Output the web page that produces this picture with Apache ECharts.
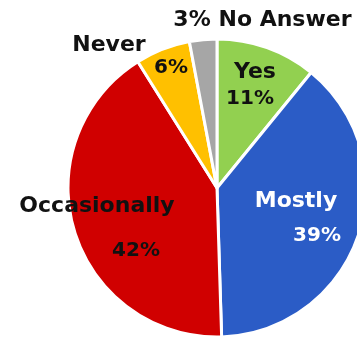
<!DOCTYPE html>
<html><head><meta charset="utf-8">
<script src="https://cdn.jsdelivr.net/npm/echarts@6/dist/echarts.min.js"></script>
<style>html,body{margin:0;padding:0;background:#fff}#c{width:357px;height:338px}</style>
</head><body><div id="c"></div>
<script>
const categories = ['Yes', 'Mostly', 'Occasionally', 'Never', 'No Answer'];
const percents = [11, 39, 42, 6, 3];
const colors = ['#92D050', '#2B5CC6', '#D00000', '#FFC000', '#A6A6A6'];
const textColors = ['#111', '#fff', '#111', '#111', '#111'];

// label positions and sizes (layout only)
const namePos = [[255, 72], [296, 201], [97, 206], [109, 45], [285, 20]];
const pctPos = [[250, 99], [317, 236], [136, 251], [171, 68], [192, 20]];
const pctSize = [20, 20, 20, 20, 22];

const chart = echarts.init(document.getElementById('c'), null, { renderer: 'canvas' });
const base = {
  type: 'pie',
  center: [217, 188],
  radius: 149,
  startAngle: 90,
  clockwise: true,
  silent: true,
  animation: false,
  labelLine: { show: false },
};
const font = { fontFamily: 'DejaVu Sans', fontWeight: 'bold', fontSize: 22 };

chart.setOption({
  backgroundColor: '#fff',
  series: [
    Object.assign({}, base, {
      data: categories.map((n, i) => ({
        name: n, value: percents[i],
        itemStyle: { color: colors[i] },
        label: { color: textColors[i] },
      })),
      itemStyle: { borderColor: '#fff', borderWidth: 3 },
      label: Object.assign({ show: true, position: 'inside', formatter: '{b}' }, font),
      labelLayout: p => ({ x: namePos[p.dataIndex][0], y: namePos[p.dataIndex][1], align: 'center', verticalAlign: 'middle' }),
    }),
    Object.assign({}, base, {
      data: categories.map((n, i) => ({
        name: n, value: percents[i],
        itemStyle: { color: 'rgba(0,0,0,0)' },
        label: { color: textColors[i], fontSize: pctSize[i] },
      })),
      itemStyle: { borderWidth: 0 },
      label: Object.assign({ show: true, position: 'inside',
        formatter: p => percents[p.dataIndex] + '%' }, font),
      labelLayout: p => ({ x: pctPos[p.dataIndex][0], y: pctPos[p.dataIndex][1], align: 'center', verticalAlign: 'middle' }),
    }),
  ],
});
</script></body></html>
